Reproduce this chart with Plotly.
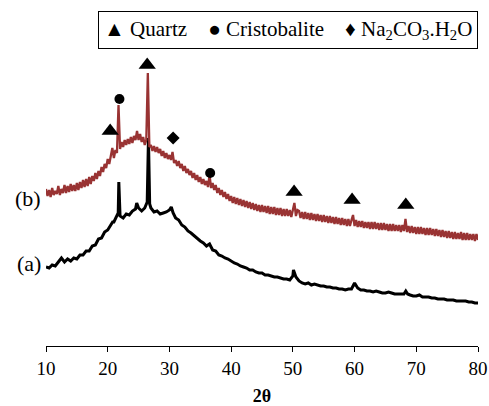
import numpy as np
import plotly.graph_objects as go

# Sample (a) - black pattern: 2theta and intensity (arb. units)
two_theta_a = [10, 10.5, 11, 11.5, 12, 12.5, 13, 13.5, 14, 14.5, 15, 15.5, 16, 16.5, 17, 17.5,
               18, 18.5, 19, 19.5, 20, 20.5, 20.8, 21, 21.5, 21.7, 21.8, 21.9, 22, 22.5, 23,
               23.5, 24, 24.5, 24.7, 25, 25.5, 26, 26.4, 26.6, 26.8, 27, 27.5, 28, 28.5, 29,
               29.5, 30, 30.3, 30.6, 31, 31.5, 32, 32.5, 33, 33.5, 34, 34.5, 35, 35.5, 36,
               36.5, 37, 37.5, 38, 38.5, 39, 39.5, 40, 40.5, 41, 41.5, 42, 42.5, 43, 43.5, 44,
               44.5, 45, 45.5, 46, 46.5, 47, 47.5, 48, 48.5, 49, 49.5, 50, 50.1, 50.5, 51,
               51.5, 52, 52.5, 53, 53.5, 54, 54.5, 55, 55.5, 56, 56.5, 57, 57.5, 58, 58.5, 59,
               59.5, 60, 60.5, 61, 61.5, 62, 62.5, 63, 63.5, 64, 64.5, 65, 65.5, 66, 66.5, 67,
               67.5, 68, 68.3, 68.6, 69, 69.5, 70, 70.5, 71, 71.5, 72, 72.5, 73, 73.5, 74,
               74.5, 75, 75.5, 76, 76.5, 77, 77.5, 78, 78.5, 79, 79.5, 80]
intensity_a = [79, 78, 81, 80, 84, 88, 84, 87, 85, 88, 87, 91, 91, 95, 95, 100,
               101, 107, 108, 114, 116, 122, 124, 124, 131, 133, 164, 132, 130, 128, 132,
               131, 135, 137, 143, 138, 135, 138, 144, 208, 142, 138, 134, 135, 132, 133,
               134, 136, 139, 133, 128, 126, 121, 119, 115, 113, 110, 108, 105, 103, 100,
               102, 96, 95, 91, 90, 88, 87, 85, 83, 82, 80, 79, 78, 76, 76, 74,
               73, 73, 71, 71, 70, 69, 69, 68, 67, 67, 66, 70, 76, 69, 65,
               63, 62, 63, 61, 62, 61, 60, 60, 59, 59, 58, 58, 57, 57, 56, 57,
               57, 63, 58, 56, 56, 55, 55, 54, 55, 54, 53, 53, 54, 53, 52, 52,
               52, 52, 55, 52, 51, 50, 50, 51, 49, 49, 49, 48, 48, 47, 47,
               47, 46, 46, 46, 45, 45, 45, 45, 44, 44, 43, 43]

# Sample (b) - red pattern, scanned every 0.25 degree from 10 to 80
two_theta_b = np.arange(10, 80.001, 0.25)
intensity_b = [
    157, 150, 156, 149, 158, 151, 155, 152, 160, 151, 157, 153, 161, 153, 160, 154, 162, 155, 161, 155,
    163, 156, 164, 158, 166, 159, 167, 160, 169, 162, 170, 165, 173, 167, 175, 170, 179, 174, 182, 178,
    187, 182, 190, 198, 188, 196, 193, 241, 197, 204, 199, 206, 201, 207, 202, 209, 203, 210, 206, 215,
    206, 212, 204, 209, 201, 206, 273, 199, 201, 195, 200, 194, 199, 193, 197, 190, 195, 188, 193, 187,
    191, 186, 194, 183, 186, 180, 185, 178, 182, 175, 180, 173, 177, 171, 175, 168, 173, 166, 171, 164,
    169, 162, 167, 161, 165, 159, 171, 158, 163, 156, 161, 153, 158, 151, 156, 149, 154, 147, 152, 145,
    150, 143, 149, 142, 148, 141, 147, 140, 146, 139, 145, 138, 144, 137, 143, 136, 142, 135, 141, 134,
    141, 134, 140, 133, 140, 132, 139, 132, 139, 131, 138, 131, 138, 130, 137, 130, 137, 130, 136, 129,
    136, 143, 130, 136, 135, 128, 134, 127, 134, 127, 133, 126, 133, 126, 132, 125, 132, 125, 131, 124,
    131, 124, 130, 123, 130, 123, 129, 122, 129, 122, 128, 121, 128, 121, 127, 120, 127, 120, 126, 131,
    120, 126, 119, 125, 119, 125, 118, 124, 118, 124, 117, 124, 117, 124, 117, 123, 116, 123, 116, 123,
    116, 122, 115, 122, 115, 122, 115, 121, 115, 121, 114, 121, 115, 127, 114, 120, 113, 120, 113, 119,
    112, 119, 112, 119, 112, 118, 111, 118, 111, 118, 111, 117, 110, 117, 110, 116, 109, 116, 109, 115,
    108, 115, 108, 114, 107, 114, 107, 113, 107, 114, 106, 113, 106, 113, 106, 112, 106, 112, 105, 112,
    106,
]

# Phase markers (reflection identification)
quartz_x = [20.4, 26.4, 50.2, 59.6, 68.3]
quartz_y = [215, 281, 154, 146, 141]
cristobalite_x = [21.9, 36.6]
cristobalite_y = [247, 173]
natron_x = [30.6]
natron_y = [208]

x_ticks = [10, 20, 30, 40, 50, 60, 70, 80]

SERIF = "Liberation Serif, Times New Roman, serif"
GAP = "&nbsp;" * 4

fig = go.Figure()
fig.add_trace(go.Scatter(x=two_theta_a, y=intensity_a, mode="lines",
                         line=dict(color="#000000", width=3), name="(a)", showlegend=False))
fig.add_trace(go.Scatter(x=two_theta_b, y=intensity_b, mode="lines",
                         line=dict(color="#993333", width=2.3), name="(b)", showlegend=False))
fig.add_trace(go.Scatter(x=quartz_x, y=quartz_y, mode="markers", name="Quartz",
                         marker=dict(symbol="triangle-up", size=15, color="black"), showlegend=False))
fig.add_trace(go.Scatter(x=cristobalite_x, y=cristobalite_y, mode="markers", name="Cristobalite",
                         marker=dict(symbol="circle", size=10, color="black"), showlegend=False))
fig.add_trace(go.Scatter(x=natron_x, y=natron_y, mode="markers", name="Na2CO3.H2O",
                         marker=dict(symbol="diamond", size=10, color="black"), showlegend=False))

fig.add_annotation(x=10, y=148, xref="x", yref="y", text="(b)", showarrow=False,
                   xanchor="right", xshift=-3, font=dict(family=SERIF, size=22, color="black"))
fig.add_annotation(x=10, y=83, xref="x", yref="y", text="(a)", showarrow=False,
                   xanchor="right", xshift=-3, font=dict(family=SERIF, size=22, color="black"))

fig.add_annotation(x=1.0, y=316, xref="paper", yref="y", xanchor="right", yanchor="middle",
                   text=("▲ Quartz" + GAP + "● Cristobalite" + GAP +
                         "♦ Na<sub>2</sub>CO<sub>3</sub>.H<sub>2</sub>O"),
                   showarrow=False, bordercolor="black", borderwidth=1, borderpad=5,
                   bgcolor="white", font=dict(family=SERIF, size=21, color="black"))

fig.update_layout(
    width=489, height=406,
    margin=dict(l=46, r=11, t=0, b=60),
    paper_bgcolor="white", plot_bgcolor="white",
    showlegend=False,
    xaxis=dict(range=[10, 80], tickvals=x_ticks, ticks="outside", ticklen=5, tickcolor="black",
               showline=True, linecolor="black", linewidth=1, showgrid=False, zeroline=False,
               tickfont=dict(family=SERIF, size=19, color="black"), automargin=False,
               title=dict(text="<b>2θ</b>", font=dict(family=SERIF, size=18, color="black"),
                          standoff=12)),
    yaxis=dict(range=[0, 346], visible=False, showgrid=False, zeroline=False),
)

fig.write_html("out.html", config={"displayModeBar": False},
               post_script="document.body.style.margin='0px';")
